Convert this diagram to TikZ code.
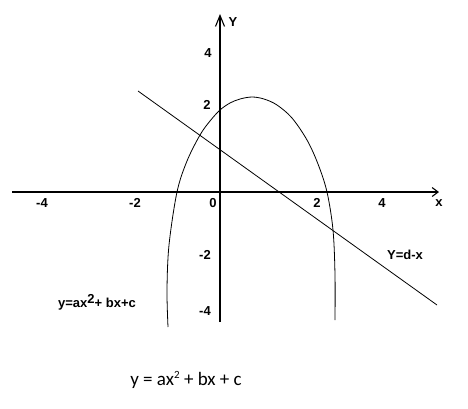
\documentclass[tikz,border=0pt]{standalone}
\usepackage{fontspec}
\setmainfont{Liberation Sans}
\newfontfamily\calfont{Carlito}
\usetikzlibrary{arrows.meta}
\begin{document}
\begin{tikzpicture}[x=1pt,y=-1pt,
  ticklbl/.style={font=\fontsize{13}{15}\selectfont\bfseries, inner sep=0pt},
  axisline/.style={line width=1.1pt},
  curveline/.style={line width=0.8pt},
  formula/.style={font=\calfont\fontsize{19}{22}\selectfont, inner sep=0pt}]
\useasboundingbox[fill=white] (0,0) rectangle (468,408);
% axes
\coordinate (xl) at (12,192);
\coordinate (xr) at (439,192);
\coordinate (yb) at (220,322);
\coordinate (yt) at (220,14);
\draw[axisline,-{Straight Barb[length=6pt,width=9pt]}] (xl) -- (xr);
\draw[axisline,-{Straight Barb[length=11pt,width=9pt]}] (yb) -- (yt);
% line Y=d-x
\coordinate (la) at (138,91);
\coordinate (lb) at (437,305);
\draw[curveline] (la) -- (lb);
% parabola-like curve
\draw[curveline] plot[smooth,tension=0.55] coordinates {(168,327) (167,290) (169,245) (177,192) (187,161) (200,135) (210,121) (220,110) (230,103) (240,99) (252,97) (264,99) (277,105) (292,118) (307,140) (318,164) (327,192) (333,230) (335,275) (335,320)};
% tick labels x
\node[ticklbl] (xm4) at (42,203) {-4};
\node[ticklbl] (xm2) at (135,203) {-2};
\node[ticklbl] (x0) at (213,203) {0};
\node[ticklbl] (x2) at (317,203) {2};
\node[ticklbl] (x4) at (382,203) {4};
\node[ticklbl] (xlab) at (439,203) {x};
% tick labels y
\node[ticklbl] (y4) at (208,53) {4};
\node[ticklbl] (y2) at (207,105) {2};
\node[ticklbl] (ym2) at (205,255) {-2};
\node[ticklbl] (ym4) at (205,311) {-4};
\node[ticklbl] (ylab) at (233,22) {Y};
% labels
\node[ticklbl] (plab) at (97,302) {y=ax\raisebox{4pt}{2}+ bx+c};
\node[ticklbl] (llab) at (405,255) {Y=d-x};
\node[formula] (form) at (186,380) {y = ax\raisebox{7pt}{\fontsize{11}{13}\selectfont 2} + bx + c};
\end{tikzpicture}
\end{document}
